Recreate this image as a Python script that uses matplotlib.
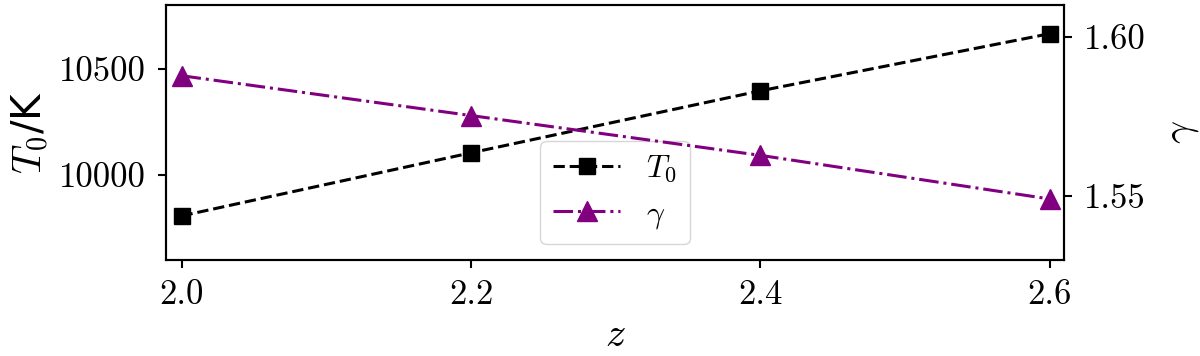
import matplotlib
matplotlib.use('Agg')
import matplotlib.pyplot as plt

# data
z = [2.0, 2.2, 2.4, 2.6]
T0 = [9807, 10104, 10396, 10665]
gamma = [1.5878, 1.5753, 1.5628, 1.5491]

plt.rcParams['font.family'] = 'serif'
plt.rcParams['font.serif'] = ['cmr10']
plt.rcParams['mathtext.fontset'] = 'cm'
plt.rcParams['axes.formatter.use_mathtext'] = True
plt.rcParams['font.size'] = 25

fig = plt.figure(figsize=(12, 3.56), dpi=100)
ax = fig.add_axes([0.138, 0.27, 0.749, 0.716])
ax2 = ax.twinx()

l1, = ax.plot(z, T0, color='k', linestyle='--', linewidth=2.2, marker='s', markersize=11, label=r'$T_0$')
l2, = ax2.plot(z, gamma, color='purple', linestyle='-.', linewidth=2.2, marker='^', markersize=14, label=r'$\gamma$')

ax.set_xlim(1.989, 2.61)
ax.set_ylim(9600, 10800)
ax2.set_ylim(1.53, 1.61)
ax.set_xticks([2.0, 2.2, 2.4, 2.6])
ax.set_xticklabels(['2.0', '2.2', '2.4', '2.6'])
ax.set_yticks([10000, 10500])
ax.set_yticklabels(['10000', '10500'])
ax2.set_yticks([1.55, 1.60])
ax2.set_yticklabels(['1.55', '1.60'])

for a in (ax, ax2):
    a.tick_params(labelsize=25, width=1.5, length=6, pad=8)
    for s in a.spines.values():
        s.set_linewidth(1.5)

ax.set_xlabel(r'$z$', fontsize=29, labelpad=5)
ax.set_ylabel(r'$T_0$/K', fontsize=29, family=['DejaVu Sans'], labelpad=6)
ax2.set_ylabel(r'$\gamma$', fontsize=29, labelpad=14)

ax.legend(handles=[l1, l2], loc='lower center', fontsize=23, handlelength=2.1)

fig.savefig('out.png', dpi=100)
